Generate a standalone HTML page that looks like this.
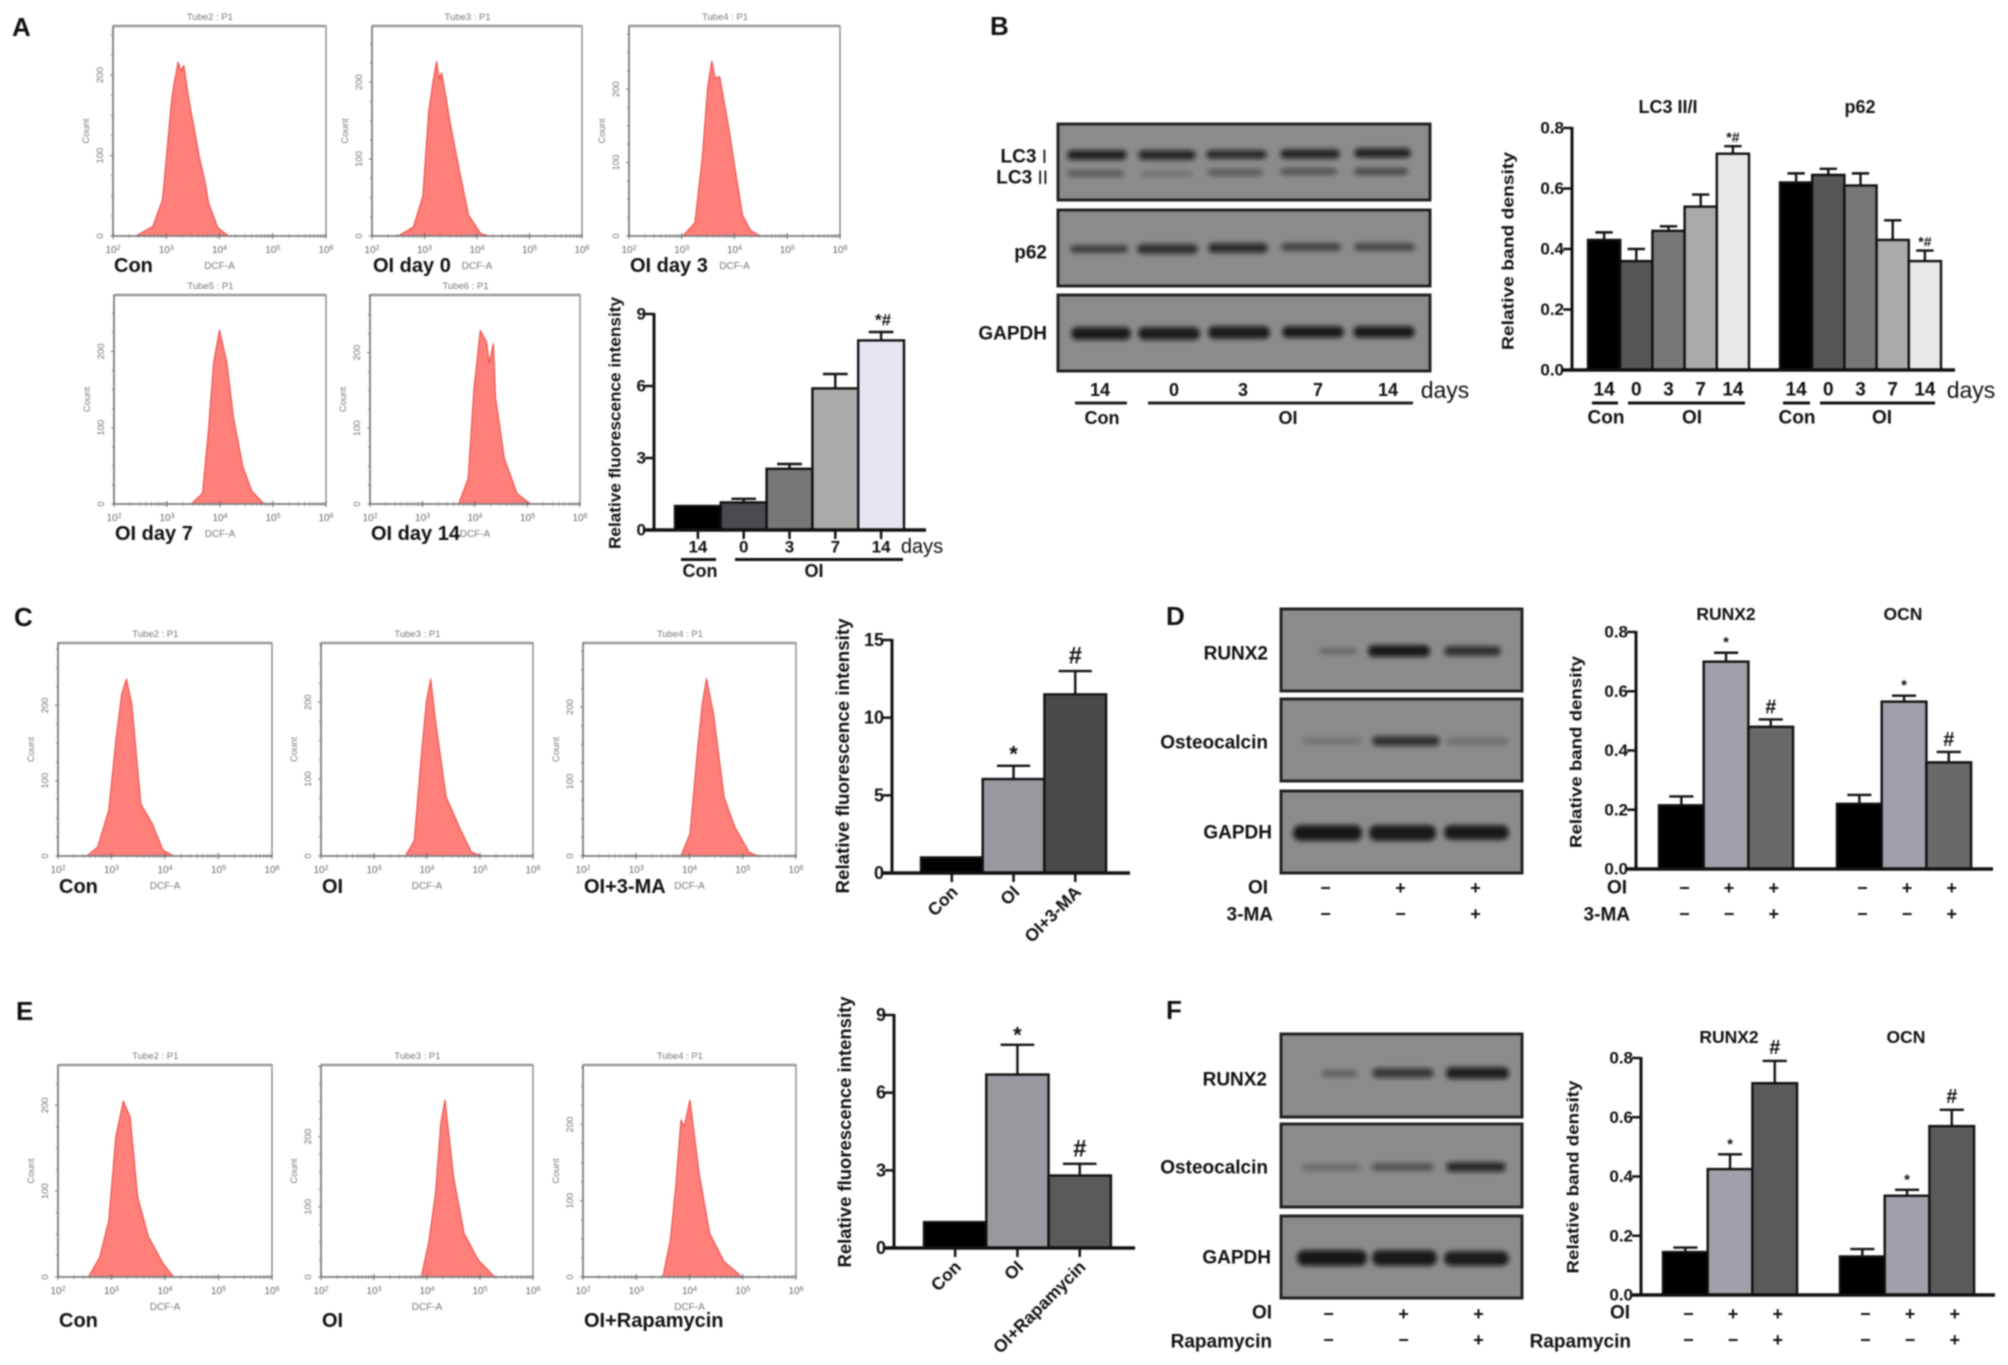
<!DOCTYPE html>
<html lang="en">
<head>
<meta charset="utf-8">
<title>Flow cytometry, western blot and band density figure</title>
<style>
html,body{margin:0;padding:0;background:#fff;}
svg{display:block;filter:blur(0.7px);}
text{font-family:"Liberation Sans",sans-serif;fill:#111;}
.b{font-weight:bold;}
.pl{font-size:26px;font-weight:bold;fill:#111;dominant-baseline:central;}
.nm{font-size:20px;font-weight:bold;dominant-baseline:central;}
.lb{font-size:19px;font-weight:bold;dominant-baseline:central;text-anchor:end;}
.blot{fill:#8b8b8b;stroke:#232323;stroke-width:3;}
.bd{fill:#0c0c0c;stroke:#0c0c0c;stroke-width:1.5;filter:url(#bandblur);}
.tt{font-size:18px;font-weight:bold;text-anchor:middle;dominant-baseline:central;}
.ln{stroke:#222;stroke-width:3;}
</style>
</head>
<body>
<svg id="fig" xmlns="http://www.w3.org/2000/svg" width="2008" height="1365" viewBox="0 0 2008 1365">
<defs>
<filter id="bandblur" x="-20%" y="-200%" width="140%" height="500%"><feGaussianBlur stdDeviation="2.4"/></filter>
</defs>
<rect x="0" y="0" width="2008" height="1365" fill="#fff"/>

<text class="pl" x="12" y="27">A</text>
<text class="pl" x="990" y="26">B</text>
<text class="pl" x="14" y="617">C</text>
<text class="pl" x="1166" y="616">D</text>
<text class="pl" x="16" y="1011">E</text>
<text class="pl" x="1166" y="1010">F</text>

<!-- Panel B blots -->
<g>
<rect class="blot" x="1058" y="124" width="372" height="76"/>
<rect class="bd" x="1068" y="151" width="58" height="8" rx="4" opacity=".85"/>
<rect class="bd" x="1139" y="151" width="56" height="8" rx="4" opacity=".8"/>
<rect class="bd" x="1207" y="151" width="59" height="7" rx="4" opacity=".78"/>
<rect class="bd" x="1281" y="150" width="58" height="8" rx="4" opacity=".8"/>
<rect class="bd" x="1355" y="149" width="55" height="8" rx="4" opacity=".82"/>
<rect class="bd" x="1068" y="171" width="55" height="5" rx="3" opacity=".38"/>
<rect class="bd" x="1142" y="172" width="50" height="4" rx="2" opacity=".2"/>
<rect class="bd" x="1208" y="170" width="54" height="5" rx="3" opacity=".38"/>
<rect class="bd" x="1281" y="169" width="55" height="5" rx="3" opacity=".45"/>
<rect class="bd" x="1355" y="169" width="52" height="5" rx="3" opacity=".55"/>
</g>
<g>
<rect class="blot" x="1058" y="210" width="372" height="76"/>
<rect class="bd" x="1071" y="246" width="56" height="6" rx="3" opacity=".62"/>
<rect class="bd" x="1138" y="245" width="59" height="8" rx="4" opacity=".72"/>
<rect class="bd" x="1209" y="244" width="58" height="8" rx="4" opacity=".76"/>
<rect class="bd" x="1282" y="244" width="58" height="6" rx="3" opacity=".58"/>
<rect class="bd" x="1355" y="244" width="59" height="6" rx="3" opacity=".55"/>
</g>
<g>
<rect class="blot" x="1058" y="295" width="372" height="76"/>
<rect class="bd" x="1072" y="328" width="58" height="11" rx="5" opacity=".9"/>
<rect class="bd" x="1139" y="328" width="60" height="11" rx="5" opacity=".88"/>
<rect class="bd" x="1209" y="327" width="60" height="11" rx="5" opacity=".88"/>
<rect class="bd" x="1283" y="327" width="60" height="10" rx="5" opacity=".9"/>
<rect class="bd" x="1354" y="327" width="60" height="10" rx="5" opacity=".9"/>
</g>
<text class="lb" x="1047" y="157">LC3 <tspan font-weight="normal">I</tspan></text>
<text class="lb" x="1048" y="178">LC3 <tspan font-weight="normal">II</tspan></text>
<text class="lb" x="1047" y="253">p62</text>
<text class="lb" x="1047" y="334">GAPDH</text>
<g>
<text class="tt" x="1100" y="390">14</text>
<text class="tt" x="1174" y="390">0</text>
<text class="tt" x="1243" y="390">3</text>
<text class="tt" x="1318" y="390">7</text>
<text class="tt" x="1388" y="390">14</text>
<text x="1445" y="390" font-size="23" text-anchor="middle" dominant-baseline="central">days</text>
<line class="ln" x1="1075" x2="1127" y1="403" y2="403"/>
<line class="ln" x1="1148" x2="1413" y1="403" y2="403"/>
<text class="tt" x="1102" y="418">Con</text>
<text class="tt" x="1288" y="418">OI</text>
</g>

<!-- Panel D blots -->
<g>
<rect class="blot" x="1281" y="609" width="241" height="82"/>
<rect class="bd" x="1320" y="649" width="36" height="4" rx="2" opacity=".3"/>
<rect class="bd" x="1369" y="646" width="60" height="10" rx="4" opacity=".9"/>
<rect class="bd" x="1445" y="647" width="55" height="8" rx="4" opacity=".72"/>
</g>
<g>
<rect class="blot" x="1281" y="699" width="241" height="82"/>
<rect class="bd" x="1303" y="739" width="58" height="4" rx="2" opacity=".2"/>
<rect class="bd" x="1373" y="737" width="66" height="8" rx="4" opacity=".72"/>
<rect class="bd" x="1447" y="739" width="60" height="5" rx="2" opacity=".22"/>
</g>
<g>
<rect class="blot" x="1281" y="791" width="241" height="82"/>
<rect class="bd" x="1294" y="826" width="67" height="14" rx="6" opacity=".92"/>
<rect class="bd" x="1370" y="826" width="65" height="14" rx="6" opacity=".9"/>
<rect class="bd" x="1445" y="826" width="63" height="13" rx="6" opacity=".9"/>
</g>
<text class="lb" x="1268" y="654">RUNX2</text>
<text class="lb" x="1268" y="743">Osteocalcin</text>
<text class="lb" x="1272" y="833">GAPDH</text>
<text class="lb" x="1268" y="888">OI</text>
<text class="lb" x="1273" y="915">3-MA</text>

<!-- Panel F blots -->
<g>
<rect class="blot" x="1281" y="1034" width="241" height="83"/>
<rect class="bd" x="1323" y="1071" width="33" height="5" rx="2" opacity=".35"/>
<rect class="bd" x="1373" y="1069" width="60" height="8" rx="4" opacity=".66"/>
<rect class="bd" x="1447" y="1068" width="61" height="10" rx="4" opacity=".86"/>
</g>
<g>
<rect class="blot" x="1281" y="1124" width="241" height="83"/>
<rect class="bd" x="1303" y="1165" width="56" height="5" rx="2" opacity=".25"/>
<rect class="bd" x="1373" y="1164" width="60" height="6" rx="3" opacity=".45"/>
<rect class="bd" x="1447" y="1163" width="58" height="8" rx="4" opacity=".78"/>
</g>
<g>
<rect class="blot" x="1281" y="1216" width="241" height="82"/>
<rect class="bd" x="1298" y="1251" width="68" height="14" rx="6" opacity=".92"/>
<rect class="bd" x="1373" y="1251" width="63" height="14" rx="6" opacity=".9"/>
<rect class="bd" x="1445" y="1252" width="63" height="13" rx="6" opacity=".88"/>
</g>
<text class="lb" x="1267" y="1080">RUNX2</text>
<text class="lb" x="1268" y="1168">Osteocalcin</text>
<text class="lb" x="1271" y="1258">GAPDH</text>
<text class="lb" x="1272" y="1313">OI</text>
<text class="lb" x="1272" y="1342">Rapamycin</text>

<g id="charts"></g>
</svg>

<script>
// ---------- Histogram data (log10 fluorescence, count) ----------
const histA1X=[2.43,2.75,2.93,3.02,3.10,3.15,3.22,3.28,3.33,3.40,3.45,3.55,3.62,3.72,3.80,3.97,4.17];
const histA1Y=[0,12,45,110,169,190,216,205,212,180,160,125,98,70,40,10,0];
const histA2X=[2.50,2.79,2.97,3.08,3.16,3.23,3.28,3.33,3.49,3.66,3.84,4.07,4.24];
const histA2Y=[0,12,52,162,200,227,205,212,147,87,27,3,0];
const histA3X=[3.02,3.25,3.39,3.49,3.57,3.63,3.72,3.90,4.01,4.15,4.30,4.48];
const histA3Y=[0,18,107,202,238,215,217,144,92,29,8,0];
const histA4X=[3.46,3.67,3.78,3.88,3.99,4.13,4.25,4.43,4.60,4.83];
const histA4Y=[0,14,94,185,228,185,115,49,17,0];
const histA5X=[3.69,3.87,3.98,4.10,4.22,4.27,4.35,4.39,4.56,4.80,5.06];
const histA5Y=[0,34,151,229,214,186,212,141,60,14,0];
const histC1X=[2.54,2.74,2.95,3.08,3.19,3.28,3.38,3.55,3.76,3.96,4.16];
const histC1Y=[0,12,61,153,215,235,202,69,43,8,0];
const histC2X=[3.59,3.76,3.89,3.99,4.07,4.16,4.36,4.64,4.84,5.04];
const histC2Y=[0,20,129,202,230,176,77,33,5,0];
const histC3X=[3.84,4.01,4.15,4.24,4.32,4.45,4.65,4.85,5.12,5.28];
const histC3Y=[0,30,142,204,238,191,79,39,5,0];
const histE1X=[2.57,2.78,2.95,3.08,3.22,3.35,3.49,3.69,3.96,4.16];
const histE1Y=[0,23,66,163,205,186,93,47,16,0];
const histE2X=[3.89,4.03,4.16,4.26,4.34,4.50,4.70,4.97,5.28];
const histE2Y=[0,48,119,219,252,143,62,24,0];
const histE3X=[3.50,3.64,3.74,3.84,3.90,4.01,4.18,4.38,4.65,4.99];
const histE3Y=[0,48,118,206,197,232,136,57,20,0];
const histDecades=[2,3,4,5,6];
const histCountTicks=[0,100,200];

// ---------- Bar chart data ----------
const barAColors=['#000000','#4a4a50','#777777','#aaaaaa','#e6e6f0'];
const barACategories=['14','0','3','7','14'];
const barAValues=[1,1.15,2.55,5.9,7.9];
const barAErrors=[0,0.15,0.2,0.6,0.35];
const barAMarks=['','','','','*#'];
const barATicks=[0,3,6,9];

const barBColors=['#000000','#555555','#777777','#aaaaaa','#e8e8e8'];
const barBCategories=['14','0','3','7','14'];
const barBLc3Values=[0.43,0.36,0.46,0.54,0.715];
const barBLc3Errors=[0.025,0.04,0.015,0.04,0.025];
const barBLc3Marks=['','','','','*#'];
const barBP62Values=[0.62,0.645,0.61,0.43,0.36];
const barBP62Errors=[0.03,0.02,0.04,0.065,0.035];
const barBP62Marks=['','','','','*#'];
const barBTicks=['0.0','0.2','0.4','0.6','0.8'];

const barCColors=['#000000','#98989f','#4a4a4a'];
const barCCategories=['Con','OI','OI+3-MA'];
const barCValues=[1,6.05,11.5];
const barCErrors=[0,0.85,1.5];
const barCMarks=['','*','#'];
const barCTicks=[0,5,10,15];

const barDColors=['#000000','#a0a0a8','#696969'];
const barDOi=['−','+','+'];
const barDMa=['−','−','+'];
const barDRunxValues=[0.215,0.70,0.48];
const barDRunxErrors=[0.03,0.03,0.025];
const barDRunxMarks=['','*','#'];
const barDOcnValues=[0.22,0.565,0.36];
const barDOcnErrors=[0.03,0.02,0.035];
const barDOcnMarks=['','*','#'];
const barDTicks=['0.0','0.2','0.4','0.6','0.8'];

const barEColors=['#000000','#98989f','#5a5a5a'];
const barECategories=['Con','OI','OI+Rapamycin'];
const barEValues=[1,6.7,2.8];
const barEErrors=[0,1.15,0.45];
const barEMarks=['','*','#'];
const barETicks=[0,3,6,9];

const barFColors=['#000000','#a0a0a8','#5a5a5a'];
const barFOi=['−','+','+'];
const barFRapa=['−','−','+'];
const barFRunxValues=[0.145,0.425,0.715];
const barFRunxErrors=[0.015,0.05,0.075];
const barFRunxMarks=['','*','#'];
const barFOcnValues=[0.13,0.335,0.57];
const barFOcnErrors=[0.025,0.02,0.055];
const barFOcnMarks=['','*','#'];
const barFTicks=['0.0','0.2','0.4','0.6','0.8'];

// ---------- Helpers ----------
const NS='http://www.w3.org/2000/svg';
const root=document.getElementById('charts');
function mk(parent,tag,attrs,content){
  const el=document.createElementNS(NS,tag);
  for(const k in attrs){el.setAttribute(k,attrs[k]);}
  if(content!==undefined){el.textContent=content;}
  parent.appendChild(el);
  return el;
}
function linear(d0,d1,r0,r1){return v=>r0+(v-d0)*(r1-r0)/(d1-d0);}

// ---------- Histogram ----------
function drawHist(box,xs,ys,yMax,title,label,nameDy){
  const g=mk(root,'g',{});
  
  
  const x=linear(2,6,box.x,box.x+box.w);
  const y=linear(0,yMax,box.y+box.h,box.y);
  const gray='#8a8a8a';
  const frame=mk(g,'rect',{x:box.x,y:box.y,width:box.w,height:box.h,fill:'#fff',stroke:gray,'stroke-width':1.4});
  
  
  const topEdge=mk(g,'line',{x1:box.x,x2:box.x+box.w,y1:box.y,y2:box.y,stroke:'#999','stroke-width':2.4});
  
  
  const pts=xs.map((v,i)=>x(v).toFixed(1)+','+y(ys[i]).toFixed(1)).join(' ');
  const area=mk(g,'polygon',{points:pts,fill:'#ff7f7a',stroke:'#ee4a44','stroke-width':1.1,'stroke-linejoin':'round'});
  
  
  const base=mk(g,'line',{x1:box.x,x2:box.x+box.w,y1:box.y+box.h,y2:box.y+box.h,stroke:'#777','stroke-width':1.6});
  
  
  const axis=mk(g,'line',{x1:box.x,x2:box.x,y1:box.y,y2:box.y+box.h,stroke:'#777','stroke-width':1.6});
  
  
  // log-scale x ticks
  for(let d=0;d<histDecades.length;d++){
    const X=x(histDecades[d]);
    const t=mk(g,'line',{x1:X,x2:X,y1:box.y+box.h-3,y2:box.y+box.h+3,stroke:'#666','stroke-width':1});
    
    
    const lab=mk(g,'text',{x:X,y:box.y+box.h+17,'font-size':10,'text-anchor':'middle',style:'fill:#666'});
    
    
    lab.textContent='10';
    const sup=mk(lab,'tspan',{dy:-3,'font-size':7},String(histDecades[d]));
    
    
    if(d<histDecades.length-1){
      for(let k=2;k<10;k++){
        const m=x(histDecades[d]+Math.log10(k));
        const mt=mk(g,'line',{x1:m,x2:m,y1:box.y+box.h-2,y2:box.y+box.h+2,stroke:'#888','stroke-width':.8});
        
        
      }
    }
  }
  // count ticks
  for(let c=0;c*25<=yMax;c++){
    const Y=y(c*25);
    const mt=mk(g,'line',{x1:box.x-(c%4===0?3:2),x2:box.x,y1:Y,y2:Y,stroke:'#777','stroke-width':1});
    
    
  }
  histCountTicks.forEach(c=>{
    const Y=y(c);
    const lab=mk(g,'text',{x:0,y:0,'font-size':9.5,'text-anchor':'middle',style:'fill:#777',transform:`translate(${box.x-10},${Y}) rotate(-90)`},String(c));
    
    
  });
  const cnt=mk(g,'text',{x:0,y:0,'font-size':9.5,'text-anchor':'middle',style:'fill:#777',transform:`translate(${box.x-24},${box.y+box.h*0.5}) rotate(-90)`},'Count');
  
  
  const tt=mk(g,'text',{x:box.x+box.w*0.455,y:box.y-6,'font-size':9.5,'text-anchor':'middle',style:'fill:#777'},title);
  
  
  const xt=mk(g,'text',{x:box.x+box.w*0.5,y:box.y+box.h+33,'font-size':10,'text-anchor':'middle',style:'fill:#777'},'DCF-A');
  
  
  const nm=mk(g,'text',{x:box.x+1,y:box.y+box.h+nameDy,class:'nm'},label);
  
  
}

// ---------- Bar chart ----------
function drawAxes(c,g,ticks){
  const yAxis=mk(g,'line',{x1:c.axisX,x2:c.axisX,y1:c.y0+1,y2:c.yTop-1,stroke:'#111','stroke-width':3});
  
  
  const scale=linear(0,c.yMax,c.y0,c.yTop);
  ticks.forEach(t=>{
    const Y=scale(Number(t));
    const tk=mk(g,'line',{x1:c.axisX-9,x2:c.axisX,y1:Y,y2:Y,stroke:'#111','stroke-width':2.5});
    
    
    const lab=mk(g,'text',{x:c.axisX-8,y:Y,'font-size':c.tickSize,class:'b','text-anchor':'end','dominant-baseline':'central'},String(t));
    
    
  });
  const tl=mk(g,'text',{x:0,y:0,class:'b','font-size':c.titleSize,'text-anchor':'middle','dominant-baseline':'central',textLength:c.titleLen,lengthAdjust:'spacingAndGlyphs',transform:`translate(${c.titleX},${c.titleY}) rotate(-90)`},c.title);
  
  
}
function drawSeries(c,g,first,colors,values,errors,marks){
  const scale=linear(0,c.yMax,c.y0,c.yTop);
  values.forEach((v,i)=>{
    const X=first+i*c.barW;
    const cx=X+c.barW/2;
    const top=scale(v);
    const errTop=scale(v+errors[i]);
    if(errors[i]>0){
      const e=mk(g,'line',{x1:cx,x2:cx,y1:top,y2:errTop,stroke:'#111','stroke-width':2.4});
      
      
      const cap=mk(g,'line',{x1:cx-c.barW*0.27,x2:cx+c.barW*0.27,y1:errTop,y2:errTop,stroke:'#111','stroke-width':2.4});
      
      
    }
    const r=mk(g,'rect',{x:X,y:top,width:c.barW,height:c.y0-top,fill:colors[i],stroke:'#111','stroke-width':2.4});
    
    
    if(marks[i]){
      const isStar=marks[i]==='*';
      const m=mk(g,'text',{x:cx+(c.markDx||0),y:errTop-c.markGap+(isStar?c.starDy:0),class:'b','font-size':marks[i]==='#'?c.hashSize:c.markSize,'text-anchor':'middle','dominant-baseline':'central'},marks[i]);
      
      
    }
    if(c.xTicks){
      const tk=mk(g,'line',{x1:cx,x2:cx,y1:c.y0,y2:c.y0+9,stroke:'#111','stroke-width':2.5});
      
      
    }
  });
}
function drawBaseline(c,g){
  const xa=mk(g,'line',{x1:c.axisX-9,x2:c.axisEnd,y1:c.y0,y2:c.y0,stroke:'#111','stroke-width':3.4});
  
  
}
function drawCats(c,g,first,cats,y,size){
  cats.forEach((t,i)=>{
    const lab=mk(g,'text',{x:first+(i+.5)*c.barW,y:y,class:'b','font-size':size,'text-anchor':'middle','dominant-baseline':'central'},t);
    
    
  });
}
function drawRotCats(c,g,first,cats){
  cats.forEach((t,i)=>{
    const cx=first+(i+.5)*c.barW;
    const lab=mk(g,'text',{x:0,y:0,class:'b','font-size':17.5,'text-anchor':'end',transform:`translate(${cx+7},${c.y0+20}) rotate(-45)`},t);
    
    
  });
}
function drawSigns(c,g,first,signs,y,offset){
  signs.forEach((t,i)=>{
    const lab=mk(g,'text',{x:first+(i+.5)*c.barW+offset,y:y,class:'b','font-size':18,'text-anchor':'middle','dominant-baseline':'central'},t);
    
    
  });
}
function bracket(g,x1,x2,y,name){
  const l=mk(g,'line',{x1:x1,x2:x2,y1:y,y2:y,stroke:'#111','stroke-width':3});
  
  
}
function note(g,x,y,size,txt,name,bold,anchor){
  const t=mk(g,'text',{x:x,y:y,'font-size':size,'font-weight':bold?'bold':'normal','text-anchor':anchor||'middle','dominant-baseline':'central'},txt);
  
  
}
function chartGroup(name){
  const g=mk(root,'g',{});
  
  
  return g;
}

// ---------- Draw histograms ----------
const W=213,HA=209,HC=213;
drawHist({x:113,y:26,w:W,h:210},histA1X,histA1Y,261,'Tube2 : P1','Con',30);
drawHist({x:372,y:26,w:W-3,h:210},histA2X,histA2Y,273,'Tube3 : P1','OI day 0',30);
drawHist({x:629,y:26,w:W-2,h:210},histA3X,histA3Y,286,'Tube4 : P1','OI day 3',30);
drawHist({x:114,y:295,w:W-1,h:HA},histA4X,histA4Y,274,'Tube5 : P1','OI day 7',30);
drawHist({x:370,y:295,w:W-3,h:HA},histA5X,histA5Y,276,'Tube6 : P1','OI day 14',30);
drawHist({x:58,y:643,w:W+1,h:HC},histC1X,histC1Y,283,'Tube2 : P1','Con',31);
drawHist({x:321,y:643,w:W-1,h:HC},histC2X,histC2Y,277,'Tube3 : P1','OI',31);
drawHist({x:583,y:643,w:W,h:HC},histC3X,histC3Y,286,'Tube4 : P1','OI+3-MA',31);
drawHist({x:58,y:1065,w:W+1,h:212},histE1X,histE1Y,247,'Tube2 : P1','Con',44);
drawHist({x:321,y:1065,w:W-1,h:212},histE2X,histE2Y,302,'Tube3 : P1','OI',44);
drawHist({x:583,y:1065,w:W,h:212},histE3X,histE3Y,278,'Tube4 : P1','OI+Rapamycin',44);

// ---------- Chart A ----------
(function(){
  const c={axisX:654,axisEnd:926,y0:530,yTop:314,yMax:9,barW:45.8,tickSize:17,title:'Relative fluorescence intensity',titleSize:17,titleLen:252,titleX:615,titleY:423,markGap:12,markSize:17,hashSize:17,starDy:0,xTicks:true,markDx:2};
  const g=chartGroup('fluorescence-bar-chart-a');
  drawAxes(c,g,barATicks);
  drawSeries(c,g,675,barAColors,barAValues,barAErrors,barAMarks);
  drawBaseline(c,g);
  drawCats(c,g,675,barACategories,547,17);
  note(g,922,547,20,'days','days-label',false);
  bracket(g,681,716,559.5,'con-bracket');
  bracket(g,735,903,559.5,'oi-bracket');
  note(g,700,571,18,'Con','con-group-label',true);
  note(g,814,571,18,'OI','oi-group-label',true);
})();

// ---------- Chart B ----------
(function(){
  const c={axisX:1572,axisEnd:1955,y0:370,yTop:128,yMax:0.8,barW:32.2,tickSize:17,title:'Relative band density',titleSize:17,titleLen:198,titleX:1508,titleY:251,markGap:9,markSize:14,hashSize:14,starDy:0,xTicks:false};
  const g=chartGroup('band-density-chart-b');
  drawAxes(c,g,barBTicks);
  drawSeries(c,g,1588,barBColors,barBLc3Values,barBLc3Errors,barBLc3Marks);
  drawSeries(c,g,1780,barBColors,barBP62Values,barBP62Errors,barBP62Marks);
  drawBaseline(c,g);
  drawCats(c,g,1588,barBCategories,390,19);
  drawCats(c,g,1780,barBCategories,390,19);
  note(g,1971,390,23,'days','days-label',false);
  note(g,1668,107,18,'LC3 II/I','lc3-chart-title',true);
  note(g,1860,107,18,'p62','p62-chart-title',true);
  bracket(g,1592,1618,403,'con-bracket-lc3');
  bracket(g,1628,1745,403,'oi-bracket-lc3');
  bracket(g,1783,1810,403,'con-bracket-p62');
  bracket(g,1820,1935,403,'oi-bracket-p62');
  note(g,1606,418,19,'Con','con-group-label-lc3',true);
  note(g,1692,418,19,'OI','oi-group-label-lc3',true);
  note(g,1797,418,19,'Con','con-group-label-p62',true);
  note(g,1882,418,19,'OI','oi-group-label-p62',true);
})();

// ---------- Chart C ----------
(function(){
  const c={axisX:892,axisEnd:1130,y0:873,yTop:640,yMax:15,barW:61.7,tickSize:18,title:'Relative fluorescence intensity',titleSize:18,titleLen:275,titleX:843,titleY:756,markGap:15,markSize:22,hashSize:24,starDy:3,xTicks:true,markDx:0};
  const g=chartGroup('fluorescence-bar-chart-c');
  drawAxes(c,g,barCTicks);
  drawSeries(c,g,921,barCColors,barCValues,barCErrors,barCMarks);
  drawBaseline(c,g);
  drawRotCats(c,g,921,barCCategories);
})();

// ---------- Chart D ----------
(function(){
  const c={axisX:1636,axisEnd:1993,y0:869,yTop:632,yMax:0.8,barW:44.7,tickSize:17,title:'Relative band density',titleSize:17,titleLen:192,titleX:1576,titleY:752,markGap:12,markSize:15,hashSize:20,starDy:2,xTicks:false};
  const g=chartGroup('band-density-chart-d');
  drawAxes(c,g,barDTicks);
  drawSeries(c,g,1659,barDColors,barDRunxValues,barDRunxErrors,barDRunxMarks);
  drawSeries(c,g,1837,barDColors,barDOcnValues,barDOcnErrors,barDOcnMarks);
  drawBaseline(c,g);
  note(g,1726,614,17.5,'RUNX2','runx2-chart-title',true);
  note(g,1903,614,17.5,'OCN','ocn-chart-title',true);
  note(g,1627,888,19,'OI','oi-row-label',true,'end');
  note(g,1630,915,19,'3-MA','3ma-row-label',true,'end');
  drawSigns(c,g,1659,barDOi,888,3);
  drawSigns(c,g,1659,barDMa,914,3);
  drawSigns(c,g,1837,barDOi,888,3);
  drawSigns(c,g,1837,barDMa,914,3);
  drawSigns({barW:75},g,1288,barDOi,888,0);
  drawSigns({barW:75},g,1288,barDMa,914,0);
})();

// ---------- Chart E ----------
(function(){
  const c={axisX:894,axisEnd:1135,y0:1248,yTop:1015,yMax:9,barW:62.3,tickSize:18,title:'Relative fluorescence intensity',titleSize:18,titleLen:271,titleX:845,titleY:1132,markGap:15,markSize:22,hashSize:24,starDy:5,xTicks:true,markDx:0};
  const g=chartGroup('fluorescence-bar-chart-e');
  drawAxes(c,g,barETicks);
  drawSeries(c,g,924,barEColors,barEValues,barEErrors,barEMarks);
  drawBaseline(c,g);
  drawRotCats(c,g,924,barECategories);
})();

// ---------- Chart F ----------
(function(){
  const c={axisX:1641,axisEnd:1995,y0:1295,yTop:1058,yMax:0.8,barW:44.7,tickSize:17,title:'Relative band density',titleSize:17,titleLen:193,titleX:1573,titleY:1177,markGap:13,markSize:15,hashSize:20,starDy:3,xTicks:false};
  const g=chartGroup('band-density-chart-f');
  drawAxes(c,g,barFTicks);
  drawSeries(c,g,1663,barFColors,barFRunxValues,barFRunxErrors,barFRunxMarks);
  drawSeries(c,g,1840,barFColors,barFOcnValues,barFOcnErrors,barFOcnMarks);
  drawBaseline(c,g);
  note(g,1729,1037,17.5,'RUNX2','runx2-chart-title',true);
  note(g,1906,1037,17.5,'OCN','ocn-chart-title',true);
  note(g,1630,1313,19,'OI','oi-row-label',true,'end');
  note(g,1631,1342,19,'Rapamycin','rapamycin-row-label',true,'end');
  drawSigns(c,g,1663,barFOi,1314,3);
  drawSigns(c,g,1663,barFRapa,1340,3);
  drawSigns(c,g,1840,barFOi,1314,3);
  drawSigns(c,g,1840,barFRapa,1340,3);
  drawSigns({barW:75},g,1291,barFOi,1314,0);
  drawSigns({barW:75},g,1291,barFRapa,1340,0);
})();
</script>
</body>
</html>
